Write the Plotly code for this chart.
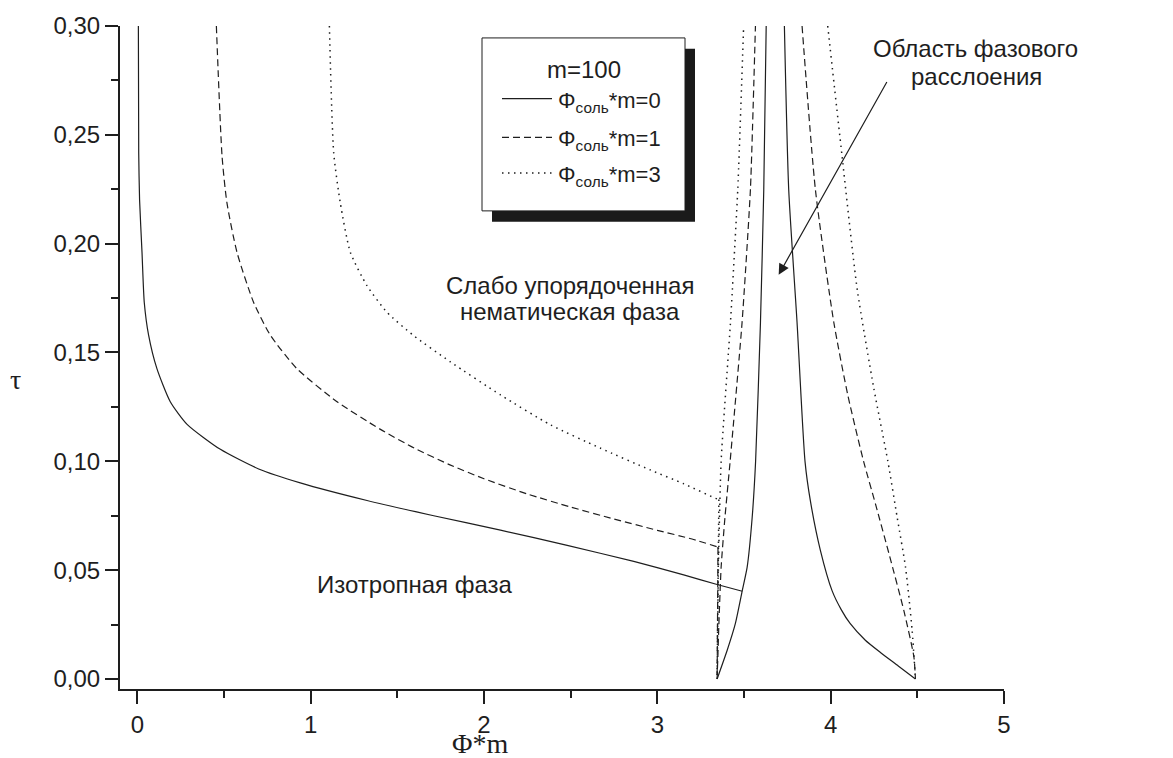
import plotly.graph_objects as go

# ---------------- data ----------------
# Phi_salt*m = 0 (solid)
S0_ISO_X = [0.006, 0.008, 0.013, 0.027, 0.04, 0.065, 0.113, 0.19, 0.287, 0.479, 0.70, 0.94, 1.325, 1.71, 2.095, 2.48, 2.864, 3.152, 3.345, 3.49]
S0_ISO_Y = [0.30, 0.2416, 0.22, 0.196, 0.173, 0.158, 0.1426, 0.1274, 0.117, 0.1055, 0.0965, 0.0901, 0.0820, 0.0750, 0.0684, 0.0614, 0.0540, 0.0478, 0.0434, 0.0403]
S0_LEFT_X = [3.345, 3.403, 3.45, 3.49, 3.518, 3.547, 3.567, 3.595, 3.614, 3.628]
S0_LEFT_Y = [0.0, 0.0132, 0.0254, 0.0406, 0.0513, 0.0741, 0.100, 0.1639, 0.2248, 0.30]
S0_RIGHT_X = [3.733, 3.758, 3.806, 3.852, 3.883, 3.941, 4.008, 4.06, 4.112, 4.20, 4.287, 4.39, 4.489]
S0_RIGHT_Y = [0.30, 0.2248, 0.1639, 0.100, 0.0818, 0.059, 0.0406, 0.0320, 0.0255, 0.0178, 0.0122, 0.0060, 0.0]

# Phi_salt*m = 1 (dashed)
S1_ISO_X = [0.456, 0.489, 0.517, 0.575, 0.671, 0.767, 0.92, 1.15, 1.40, 1.60, 1.80, 2.00, 2.25, 2.50, 2.75, 3.00, 3.20, 3.35]
S1_ISO_Y = [0.30, 0.240, 0.2187, 0.196, 0.173, 0.158, 0.1426, 0.1275, 0.1148, 0.1060, 0.0985, 0.0920, 0.0850, 0.0790, 0.0735, 0.0683, 0.0643, 0.0606]
S1_LEFT_X = [3.345, 3.355, 3.368, 3.39, 3.42, 3.489, 3.537, 3.566]
S1_LEFT_Y = [0.0, 0.025, 0.0513, 0.0741, 0.100, 0.1639, 0.2248, 0.30]
S1_RIGHT_X = [3.835, 3.912, 4.018, 4.10, 4.19, 4.26, 4.34, 4.422, 4.48, 4.489]
S1_RIGHT_Y = [0.30, 0.2248, 0.1639, 0.130, 0.100, 0.0800, 0.0565, 0.0315, 0.0102, 0.0]

# Phi_salt*m = 3 (dotted)
S2_ISO_X = [1.108, 1.133, 1.171, 1.229, 1.325, 1.44, 1.59, 1.806, 2.095, 2.383, 2.67, 2.96, 3.152, 3.345, 3.355]
S2_ISO_Y = [0.30, 0.2416, 0.2187, 0.196, 0.1807, 0.1685, 0.158, 0.1457, 0.1305, 0.1168, 0.1061, 0.0960, 0.0897, 0.0827, 0.0825]
S2_LEFT_X = [3.345, 3.352, 3.368, 3.422, 3.464, 3.498]
S2_LEFT_Y = [0.0, 0.05, 0.100, 0.1639, 0.2248, 0.30]
S2_RIGHT_X = [3.983, 4.066, 4.153, 4.249, 4.33, 4.384, 4.432, 4.47, 4.489]
S2_RIGHT_Y = [0.30, 0.240, 0.1791, 0.1335, 0.100, 0.0741, 0.0513, 0.0224, 0.0]

SERIES_NAMES = ["Φ<sub>соль</sub>*m=0", "Φ<sub>соль</sub>*m=1", "Φ<sub>соль</sub>*m=3"]
LEGEND_TITLE = "m=100"
X_TICKS = [0, 1, 2, 3, 4, 5]
Y_TICKS = [0.0, 0.05, 0.10, 0.15, 0.20, 0.25, 0.30]
Y_TICK_TEXT = ["0,00", "0,05", "0,10", "0,15", "0,20", "0,25", "0,30"]

# ---------------- figure ----------------
W, H = 1173, 758
ML, MR, MT, MB = 120, 169, 22, 69
PW, PH = W - ML - MR, H - MT - MB
INK = "#1e1e1e"
FONT = "Liberation Sans, Arial, sans-serif"
SERIF = "Liberation Serif, Times New Roman, serif"


def px_x(p):
    return (p - ML) / PW


def px_y(p):
    return (H - MB - p) / PH


styles = [
    dict(color=INK, width=1.2, dash="solid"),
    dict(color=INK, width=1.2, dash="7px,4px"),
    dict(color=INK, width=1.5, dash="1.5px,4.5px"),
]

series = [
    (S0_ISO_X, S0_ISO_Y, S0_LEFT_X, S0_LEFT_Y, S0_RIGHT_X, S0_RIGHT_Y, False),
    (S1_ISO_X, S1_ISO_Y, S1_LEFT_X, S1_LEFT_Y, S1_RIGHT_X, S1_RIGHT_Y, True),
    (S2_ISO_X, S2_ISO_Y, S2_LEFT_X, S2_LEFT_Y, S2_RIGHT_X, S2_RIGHT_Y, True),
]

fig = go.Figure()
for i, (ix, iy, lx, ly, rx, ry, drop) in enumerate(series):
    grp = "s%d" % i
    st = styles[i]
    common = dict(mode="lines", legendgroup=grp, showlegend=False,
                  hoverinfo="skip", cliponaxis=True)
    fig.add_trace(go.Scatter(x=ix, y=iy, line=dict(shape="spline", smoothing=0.6, **st), **common))
    if drop:
        fig.add_trace(go.Scatter(x=[ix[-1], lx[0]], y=[iy[-1], ly[0]], line=st, **common))
    fig.add_trace(go.Scatter(x=lx, y=ly, line=dict(shape="spline", smoothing=0.5, **st), **common))
    fig.add_trace(go.Scatter(x=rx, y=ry, line=dict(shape="spline", smoothing=0.6, **st), **common))

axis_common = dict(
    showgrid=False, zeroline=False, showline=True, linecolor=INK, linewidth=2,
    ticks="outside", ticklen=13, tickwidth=2, tickcolor=INK,
    tickfont=dict(family=FONT, size=24, color=INK),
)
fig.update_xaxes(
    range=[-0.1, 5], tickvals=X_TICKS, ticktext=[str(v) for v in X_TICKS],
    minor=dict(dtick=0.5, tick0=0, ticklen=7, tickwidth=2, tickcolor=INK, ticks="outside", showgrid=False),
    **axis_common,
)
fig.update_yaxes(
    range=[-0.0046, 0.30], tickvals=Y_TICKS, ticktext=Y_TICK_TEXT,
    minor=dict(dtick=0.025, tick0=0, ticklen=7, tickwidth=2, tickcolor=INK, ticks="outside", showgrid=False),
    **axis_common,
)

annotations = []
shapes = []

# axis titles
annotations.append(dict(xref="paper", yref="paper", x=px_x(480), y=px_y(744), text="Φ*m",
                        showarrow=False, font=dict(family=SERIF, size=28, color=INK),
                        xanchor="center", yanchor="middle"))
annotations.append(dict(xref="paper", yref="paper", x=px_x(15), y=px_y(378), text="τ",
                        showarrow=False, font=dict(family=SERIF, size=28, color=INK),
                        xanchor="center", yanchor="middle"))

# region labels (data coordinates)
label_font = dict(family=FONT, size=24, color=INK)
for txt, x, y in [
    ("Слабо упорядоченная", 2.496, 0.1810),
    ("нематическая фаза", 2.496, 0.1690),
    ("Сильно упорядоченная", 5.141, 0.1810),
    ("нематическая фаза", 5.13, 0.1690),
    ("Область фазового", 4.838, 0.2895),
    ("расслоения", 4.841, 0.2768),
    ("Изотропная фаза", 1.604, 0.0435),
]:
    annotations.append(dict(xref="x", yref="y", x=x, y=y, text=txt, showarrow=False,
                            font=label_font, xanchor="center", yanchor="middle"))

# arrow
annotations.append(dict(xref="x", yref="y", x=3.70, y=0.1857, axref="x", ayref="y",
                        ax=4.329, ay=0.2750, text="", showarrow=True, arrowhead=2,
                        arrowsize=1.8, arrowwidth=1.2, arrowcolor=INK, standoff=0))

# legend box with shadow
shapes.append(dict(type="rect", xref="paper", yref="paper", layer="above",
                   x0=px_x(492), x1=px_x(695), y0=px_y(219), y1=px_y(45),
                   fillcolor="#1a1a1a", line=dict(width=0)))
shapes.append(dict(type="rect", xref="paper", yref="paper", layer="above",
                   x0=px_x(482), x1=px_x(685), y0=px_y(208), y1=px_y(34),
                   fillcolor="white", line=dict(color=INK, width=1)))
annotations.append(dict(xref="paper", yref="paper", x=px_x(584), y=px_y(66), text=LEGEND_TITLE,
                        showarrow=False, font=dict(family=FONT, size=24, color=INK),
                        xanchor="center", yanchor="middle"))
for i, yc in enumerate([95, 134, 170]):
    shapes.append(dict(type="line", xref="paper", yref="paper", layer="above",
                       x0=px_x(502), x1=px_x(552), y0=px_y(yc), y1=px_y(yc),
                       line=dict(color=INK, width=styles[i]["width"], dash=styles[i]["dash"])))
    annotations.append(dict(xref="paper", yref="paper", x=px_x(556), y=px_y(yc + 3), text=SERIES_NAMES[i],
                            showarrow=False, font=dict(family=FONT, size=22, color=INK),
                            xanchor="left", yanchor="middle"))

fig.update_layout(
    width=W, height=H, margin=dict(l=ML, r=MR, t=MT, b=MB, pad=0),
    paper_bgcolor="white", plot_bgcolor="white", showlegend=False,
    annotations=annotations, shapes=shapes,
    font=dict(family=FONT, color=INK),
)

fig.write_html("out.html")
